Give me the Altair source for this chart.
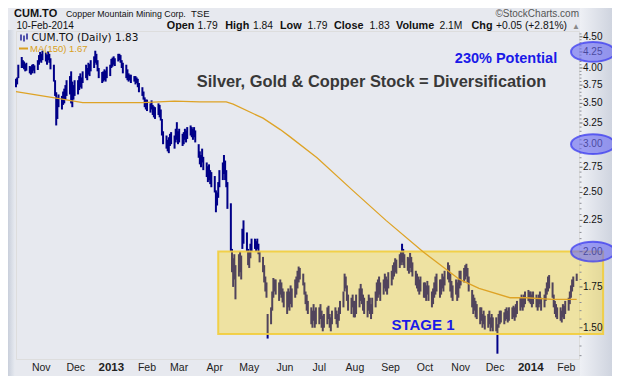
import altair as alt
import pandas as pd
import numpy as np

# ---------------- data ----------------
MONTHS = ["2012-10", "2012-11", "2012-12", "2013-01", "2013-02", "2013-03", "2013-04",
          "2013-05", "2013-06", "2013-07", "2013-08", "2013-09", "2013-10", "2013-11",
          "2013-12", "2014-01", "2014-02"]

LOWS = [
    [3.72, 3.76, 3.85, 4.00, 4.00, 3.98, 3.95, 3.96, 3.92, 3.90, 3.92, 3.96, 3.92, 3.97, 4.05, 4.10],
    [4.08, 4.12, 4.10, 4.05, 4.12, 4.08, 3.98, 3.80, 3.60, 3.22, 3.30, 3.45, 3.42, 3.48, 3.50, 3.55, 3.60, 3.62, 3.50, 3.45, 3.55, 3.60],
    [3.62, 3.68, 3.72, 3.70, 3.78, 3.85, 3.82, 3.90, 3.88, 3.95, 4.00, 4.08, 4.05, 3.95, 3.85, 3.78, 3.80, 3.82, 3.80, 3.85, 3.88],
    [4.00, 4.02, 4.05, 4.03, 4.10, 4.12, 4.08, 4.00, 3.92, 3.85, 3.82, 3.80, 3.82, 3.78, 3.80, 3.76, 3.78, 3.72, 3.65, 3.60, 3.55, 3.45, 3.42],
    [3.40, 3.38, 3.42, 3.35, 3.32, 3.30, 3.35, 3.32, 3.28, 3.10, 3.00, 2.95, 2.92, 2.90, 2.98, 3.00, 2.95, 3.02, 3.05, 3.00],
    [3.02, 2.98, 3.00, 3.05, 3.02, 3.06, 3.10, 3.08, 3.05, 3.08, 3.02, 2.85, 2.78, 2.75, 2.80, 2.72, 2.65, 2.60, 2.62, 2.58, 2.55],
    [2.50, 2.32, 2.38, 2.45, 2.55, 2.62, 2.68, 2.62, 2.55, 2.35, 2.00, 1.85, 1.75, 1.80, 1.67, 1.82, 1.85, 1.80, 2.02, 2.06, 2.00, 1.90],
    [1.88, 1.95, 2.00, 2.02, 2.00, 2.02, 1.98, 1.92, 1.85, 1.78, 1.72, 1.68, 1.44, 1.52, 1.60, 1.68, 1.72, 1.70, 1.66, 1.70, 1.68, 1.65, 1.62],
    [1.58, 1.62, 1.60, 1.64, 1.62, 1.68, 1.70, 1.74, 1.78, 1.80, 1.76, 1.70, 1.64, 1.60, 1.58, 1.52, 1.50, 1.54, 1.50, 1.52],
    [1.52, 1.55, 1.50, 1.48, 1.50, 1.52, 1.55, 1.50, 1.48, 1.52, 1.55, 1.52, 1.50, 1.54, 1.58, 1.62, 1.72, 1.74, 1.66, 1.60, 1.58, 1.62, 1.56],
    [1.56, 1.58, 1.62, 1.66, 1.64, 1.60, 1.58, 1.56, 1.60, 1.58, 1.55, 1.58, 1.62, 1.66, 1.68, 1.70, 1.66, 1.70, 1.74, 1.72, 1.70, 1.74],
    [1.76, 1.80, 1.82, 1.85, 1.84, 1.88, 1.90, 1.92, 1.90, 1.88, 1.86, 1.84, 1.88, 1.85, 1.82, 1.76, 1.74, 1.72, 1.70, 1.72, 1.68],
    [1.68, 1.66, 1.70, 1.66, 1.62, 1.64, 1.68, 1.70, 1.72, 1.68, 1.70, 1.74, 1.72, 1.76, 1.80, 1.78, 1.72, 1.68, 1.66, 1.70, 1.66, 1.68, 1.74],
    [1.76, 1.78, 1.80, 1.82, 1.78, 1.72, 1.62, 1.58, 1.60, 1.56, 1.55, 1.52, 1.54, 1.50, 1.52, 1.49, 1.50, 1.52, 1.48, 1.50, 1.48],
    [1.48, 1.36, 1.50, 1.52, 1.53, 1.52, 1.54, 1.55, 1.53, 1.54, 1.55, 1.56, 1.54, 1.56, 1.58, 1.60, 1.62, 1.60, 1.62, 1.64, 1.66, 1.65],
    [1.64, 1.62, 1.64, 1.62, 1.60, 1.62, 1.64, 1.60, 1.62, 1.66, 1.70, 1.72, 1.74, 1.68, 1.62, 1.58, 1.56, 1.55, 1.54, 1.53, 1.56, 1.55, 1.58],
    [1.60, 1.64, 1.68, 1.72, 1.75, 1.79],
]

HIGHS = [
    [3.84, 3.86, 4.05, 4.17, 4.12, 4.10, 4.06, 4.08, 4.03, 4.02, 4.05, 4.06, 4.04, 4.12, 4.20, 4.25],
    [4.22, 4.27, 4.24, 4.20, 4.26, 4.22, 4.15, 4.05, 3.82, 3.65, 3.58, 3.62, 3.60, 3.66, 3.70, 3.75, 3.82, 3.88, 3.95, 3.80, 3.75, 3.82],
    [3.82, 3.88, 3.92, 3.86, 3.95, 4.05, 4.00, 4.08, 4.06, 4.12, 4.18, 4.27, 4.22, 4.12, 4.00, 3.94, 3.95, 3.98, 3.96, 4.02, 4.05],
    [4.14, 4.16, 4.18, 4.15, 4.22, 4.22, 4.20, 4.12, 4.08, 4.05, 3.98, 3.92, 3.90, 3.90, 3.88, 3.88, 3.86, 3.84, 3.78, 3.72, 3.66, 3.58, 3.55],
    [3.55, 3.50, 3.54, 3.48, 3.46, 3.45, 3.50, 3.48, 3.42, 3.30, 3.15, 3.10, 3.05, 3.08, 3.12, 3.14, 3.10, 3.18, 3.26, 3.15],
    [3.18, 3.12, 3.14, 3.18, 3.16, 3.20, 3.22, 3.20, 3.18, 3.20, 3.16, 3.00, 2.92, 2.88, 2.95, 2.86, 2.80, 2.76, 2.78, 2.72, 2.70],
    [2.66, 2.52, 2.50, 2.60, 2.72, 2.80, 2.88, 2.82, 2.72, 2.60, 2.40, 2.02, 1.95, 1.98, 1.90, 1.98, 2.00, 1.97, 2.18, 2.25, 2.15, 2.02],
    [2.00, 2.06, 2.10, 2.10, 2.08, 2.10, 2.06, 2.00, 1.96, 1.90, 1.82, 1.78, 1.58, 1.62, 1.72, 1.81, 1.80, 1.80, 1.78, 1.80, 1.78, 1.74, 1.72],
    [1.72, 1.74, 1.72, 1.76, 1.74, 1.80, 1.82, 1.86, 1.89, 1.88, 1.84, 1.78, 1.72, 1.70, 1.66, 1.62, 1.60, 1.64, 1.60, 1.62],
    [1.62, 1.64, 1.60, 1.57, 1.58, 1.62, 1.63, 1.58, 1.56, 1.60, 1.62, 1.60, 1.58, 1.62, 1.66, 1.72, 1.84, 1.82, 1.76, 1.70, 1.68, 1.70, 1.66],
    [1.66, 1.70, 1.74, 1.77, 1.74, 1.70, 1.68, 1.66, 1.70, 1.68, 1.64, 1.68, 1.72, 1.78, 1.80, 1.82, 1.78, 1.80, 1.84, 1.82, 1.80, 1.85],
    [1.86, 1.90, 1.92, 1.95, 1.94, 1.98, 2.00, 2.06, 2.02, 1.98, 1.96, 1.95, 1.99, 1.96, 1.92, 1.86, 1.84, 1.82, 1.80, 1.82, 1.78],
    [1.78, 1.76, 1.79, 1.76, 1.72, 1.74, 1.78, 1.82, 1.84, 1.80, 1.80, 1.84, 1.82, 1.86, 1.92, 1.90, 1.84, 1.79, 1.76, 1.80, 1.78, 1.80, 1.86],
    [1.86, 1.88, 1.90, 1.91, 1.88, 1.82, 1.73, 1.70, 1.68, 1.66, 1.64, 1.62, 1.62, 1.58, 1.60, 1.57, 1.58, 1.60, 1.56, 1.58, 1.56],
    [1.56, 1.52, 1.58, 1.60, 1.60, 1.59, 1.61, 1.62, 1.60, 1.62, 1.62, 1.63, 1.62, 1.64, 1.66, 1.68, 1.70, 1.68, 1.70, 1.72, 1.73, 1.72],
    [1.72, 1.70, 1.72, 1.70, 1.68, 1.70, 1.72, 1.68, 1.70, 1.74, 1.78, 1.82, 1.83, 1.78, 1.70, 1.66, 1.64, 1.62, 1.62, 1.60, 1.64, 1.63, 1.66],
    [1.68, 1.72, 1.76, 1.80, 1.82, 1.84],
]

MA_DATES = ["2012/10/10", "2012/11/14", "2012/12/07", "2013/01/28", "2013/02/25", "2013/03/19",
            "2013/04/11", "2013/04/17", "2013/05/13", "2013/05/28", "2013/06/05", "2013/06/29",
            "2013/07/30", "2013/08/28", "2013/09/29", "2013/10/31", "2013/11/17", "2013/12/14",
            "2013/12/28", "2014/01/20", "2014/02/10"]
MA_VALUES = [3.66, 3.57, 3.51, 3.51, 3.53, 3.52, 3.52, 3.49, 3.31, 3.17, 3.09, 2.85,
             2.52, 2.25, 2.00, 1.80, 1.74, 1.68, 1.68, 1.67, 1.67]

Y_TICKS = [1.50, 1.75, 2.00, 2.25, 2.50, 2.75, 3.00, 3.25, 3.50, 3.75, 4.00, 4.25, 4.50]
MINOR_TICKS = [1.35, 1.40, 1.45, 1.55, 1.60, 1.65, 1.70, 1.80, 1.85, 1.90, 1.95, 2.05, 2.10,
               2.15, 2.20, 2.30, 2.35, 2.40, 2.45, 2.55, 2.60, 2.65, 2.70, 2.80, 2.85, 2.90,
               2.95, 3.05, 3.10, 3.15, 3.20, 3.30, 3.35, 3.40, 3.45, 3.55, 3.60, 3.65, 3.70,
               3.80, 3.85, 3.90, 3.95, 4.05, 4.10, 4.15, 4.20, 4.30, 4.35, 4.40, 4.45, 4.55]
MONTH_TICKS = ["2012/11/01", "2012/12/01", "2013/01/01", "2013/02/01", "2013/03/01", "2013/04/01",
               "2013/05/01", "2013/06/01", "2013/07/01", "2013/08/01", "2013/09/01", "2013/10/01",
               "2013/11/01", "2013/12/01", "2014/01/01", "2014/02/01"]
CIRCLED = [4.25, 3.00, 2.00]
BOX_START, BOX_END = "2013/04/04", "2014/03/05"
BOX_LOW, BOX_HIGH = 1.465, 2.00

# ---------------- build tables ----------------
rows = []
for m, lo, hi in zip(MONTHS, LOWS, HIGHS):
    start = max(pd.Timestamp(m + "-01"), pd.Timestamp("2012-10-10"))
    end = min(pd.Timestamp(m + "-01") + pd.offsets.MonthEnd(0), pd.Timestamp("2014-02-10"))
    days = pd.bdate_range(start, end)
    idx = np.round(np.linspace(0, len(days) - 1, len(lo))).astype(int)
    for i, l, h in zip(idx, lo, hi):
        rows.append({"date": days[i].strftime("%Y/%m/%d"), "low": l, "high": h})
bars_df = pd.DataFrame(rows)
ma_df = pd.DataFrame({"date": MA_DATES, "ma": MA_VALUES})
box_df = pd.DataFrame({"s": [BOX_START], "e": [BOX_END], "lo": [BOX_LOW], "hi": [BOX_HIGH]})
circ_df = pd.DataFrame({"v": CIRCLED})
xlab_df = pd.DataFrame({"d": MONTH_TICKS})
ylab_df = pd.DataFrame({"v": Y_TICKS})
minor_df = pd.DataFrame({"v": MINOR_TICKS})
one = pd.DataFrame({"a": [0]})

W, H = 563, 328
xs = alt.Scale(domain=[alt.DateTime(year=2012, month=10, date=10),
                       alt.DateTime(year=2014, month=2, date=12)])
ys = alt.Scale(type="log", domain=[1.333, 4.60], nice=False, zero=False)

is_jan = "month(datum.value) == 0"
# axes only give the grid; labels and ticks are drawn as marks below
x_axis = alt.Axis(
    values=[alt.DateTime(year=int(d[:4]), month=int(d[5:7]), date=1) for d in MONTH_TICKS],
    title=None, domain=False, ticks=False, labels=False,
    gridColor={"condition": {"test": is_jan, "value": "#b9bcc6"}, "value": "#d9dbe3"},
    gridWidth=1,
)
y_axis = alt.Axis(
    orient="right", values=Y_TICKS, title=None, domain=False, labels=False, ticks=False,
    gridColor="#d9dbe3",
)

# side shading (right label strip and left edge strip)
right_strip = alt.Chart(one).mark_rect(
    color=alt.LinearGradient(gradient="linear", x1=0, x2=1, y1=0, y2=0,
                             stops=[alt.GradientStop(color="#eef0f5", offset=0),
                                    alt.GradientStop(color="#cfd4df", offset=1)])
).encode(x=alt.value(W + 1), x2=alt.value(W + 33), y=alt.value(-23), y2=alt.value(H + 17))
left_strip = alt.Chart(one).mark_rect(
    color=alt.LinearGradient(gradient="linear", x1=0, x2=1, y1=0, y2=0,
                             stops=[alt.GradientStop(color="#c9cfdb", offset=0),
                                    alt.GradientStop(color="#e8ebf1", offset=1)])
).encode(x=alt.value(-8), x2=alt.value(-0.8), y=alt.value(-1), y2=alt.value(H + 17))

bars = alt.Chart(bars_df).mark_rule(color="#000088", strokeWidth=2).encode(
    x=alt.X("date:T", scale=xs, axis=x_axis, title=None),
    y=alt.Y("low:Q", scale=ys, axis=y_axis, title=None),
    y2="high:Q",
)

box = alt.Chart(box_df).mark_rect(
    fill="#fcd400", fillOpacity=0.32, stroke="#f2cd3c", strokeWidth=2, strokeOpacity=0.9
).encode(
    x=alt.X("s:T", scale=xs, axis=None, title=None), x2="e:T",
    y=alt.Y("lo:Q", scale=ys, axis=None, title=None), y2="hi:Q",
)

ma = alt.Chart(ma_df).mark_line(color="#dea326", strokeWidth=1.3).encode(
    x=alt.X("date:T", scale=xs, axis=None, title=None),
    y=alt.Y("ma:Q", scale=ys, axis=None, title=None),
)

# month / year labels under the plot
xlabels_month = alt.Chart(xlab_df).transform_filter(
    "month(datum.d) != 0"
).mark_text(baseline="middle", align="center", fontSize=10.5, color="#222222",
            font="Liberation Sans").encode(
    x=alt.X("d:T", scale=xs, axis=None, title=None),
    y=alt.value(H + 8.5),
    text=alt.Text("d:T", timeUnit="month", format="%b"),
)
xlabels_year = alt.Chart(xlab_df).transform_filter(
    "month(datum.d) == 0"
).mark_text(baseline="middle", align="center", fontSize=11.5, fontWeight="bold",
            color="#222222", font="Liberation Sans").encode(
    x=alt.X("d:T", scale=xs, axis=None, title=None),
    y=alt.value(H + 8.5),
    text=alt.Text("d:T", timeUnit="year", format="%Y"),
)
yticks_major = alt.Chart(ylab_df).mark_rule(color="#666666", strokeWidth=1).encode(
    x=alt.value(W + 0.5), x2=alt.value(W + 3.5),
    y=alt.Y("v:Q", scale=ys, axis=None, title=None),
)
yticks_minor = alt.Chart(minor_df).mark_rule(color="#8a8d96", strokeWidth=1).encode(
    x=alt.value(W + 0.5), x2=alt.value(W + 2.5),
    y=alt.Y("v:Q", scale=ys, axis=None, title=None),
)
ylabels = alt.Chart(ylab_df).mark_text(
    baseline="middle", align="left", fontSize=10, color="#111111", font="Liberation Sans"
).encode(
    x=alt.value(W + 4),
    y=alt.Y("v:Q", scale=ys, axis=None, title=None),
    text=alt.Text("v:Q", format=".2f"),
)

ELLIPSE = ("M -1 0 C -1 -0.2485 -0.5523 -0.45 0 -0.45 C 0.5523 -0.45 1 -0.2485 1 0 "
           "C 1 0.2485 0.5523 0.45 0 0.45 C -0.5523 0.45 -1 0.2485 -1 0 Z")
ellipses = alt.Chart(circ_df).mark_point(
    shape=ELLIPSE, size=44 * 44, filled=True, fill="#6a6af2", fillOpacity=0.62,
    stroke="#3c3cf0", strokeWidth=2, strokeOpacity=0.75, opacity=1
).encode(
    x=alt.value(577),
    y=alt.Y("v:Q", scale=ys, axis=None, title=None),
)


def txt(text, x, y, size, color="#222222", weight="normal", align="left",
        font="Liberation Sans"):
    return alt.Chart(pd.DataFrame({"t": [text]})).mark_text(
        align=align, baseline="alphabetic", fontSize=size, fontWeight=weight,
        color=color, font=font
    ).encode(text="t:N", x=alt.value(x), y=alt.value(y))


def seg(x, x2, y, y2, color, width):
    return alt.Chart(one).mark_rule(color=color, strokeWidth=width).encode(
        x=alt.value(x), x2=alt.value(x2), y=alt.value(y), y2=alt.value(y2))


annotations = [
    txt("Silver, Gold & Copper Stock = Diversification", 355.5, 56, 16.4, color="#383838",
        weight="bold", align="center"),
    txt("230% Potential", 490, 31.5, 14.5, color="#1a1ae8", weight="bold", align="center"),
    txt("STAGE 1", 407, 299, 15, color="#1a1ae8", weight="bold", align="center"),
    # legend inside plot
    txt("CUM.TO (Daily) 1.83", 15.5, 10, 10.5, color="#111111", font="DejaVu Sans"),
    txt("MA(150) 1.67", 14, 20.5, 9.5, color="#d9a020"),
    seg(3, 12, 17.5, 17.5, "#d9a020", 2),
    seg(5, 5, 3.5, 9.5, "#000088", 1.3),
    seg(8, 8, 4.5, 10.5, "#000088", 1.3),
    seg(11, 11, 2.5, 8.5, "#000088", 1.3),
    # header
    txt("CUM.TO", -2, -14, 11, color="#111111", weight="bold"),
    txt("Copper Mountain Mining Corp.", 50, -14.3, 8.8, color="#111111"),
    txt("TSE", 175, -14.3, 9.5, color="#111111"),
    txt("\u00a9StockCharts.com", 563, -14.3, 10, color="#555555", align="right"),
    txt("10-Feb-2014", 0.5, -2.0, 10, color="#111111"),
]
row2 = [("Open", 150.8, True), ("1.79", 181.6, False), ("High", 209.3, True), ("1.84", 237, False),
        ("Low", 264, True), ("1.79", 291.5, False), ("Close", 318, True), ("1.83", 353.6, False),
        ("Volume", 380, True), ("2.1M", 423.5, False), ("Chg", 455.5, True),
        ("+0.05 (+2.81%)", 480, False)]
for t, x, b in row2:
    annotations.append(txt(t, x, -2.0, 10.8 if b else 10.3, color="#111111",
                           weight="bold" if b else "normal"))
annotations.append(txt("\u25b2", 556, -2.0, 8, color="#888888"))

chart = alt.layer(right_strip, left_strip, bars, box, ma, xlabels_month, xlabels_year,
                  yticks_minor, yticks_major, ylabels, ellipses, *annotations).properties(
    width=W, height=H,
    autosize=alt.AutoSizeParams(type="none"),
    padding={"left": 8, "top": 23, "right": 33, "bottom": 17},
    background="#e7e9ef",
).configure_view(
    fill="#f6f7fb", stroke="#5f636e", strokeWidth=1.5
).configure(font="Liberation Sans")

chart.save("out.html", embed_options={"renderer": "svg", "actions": False})
